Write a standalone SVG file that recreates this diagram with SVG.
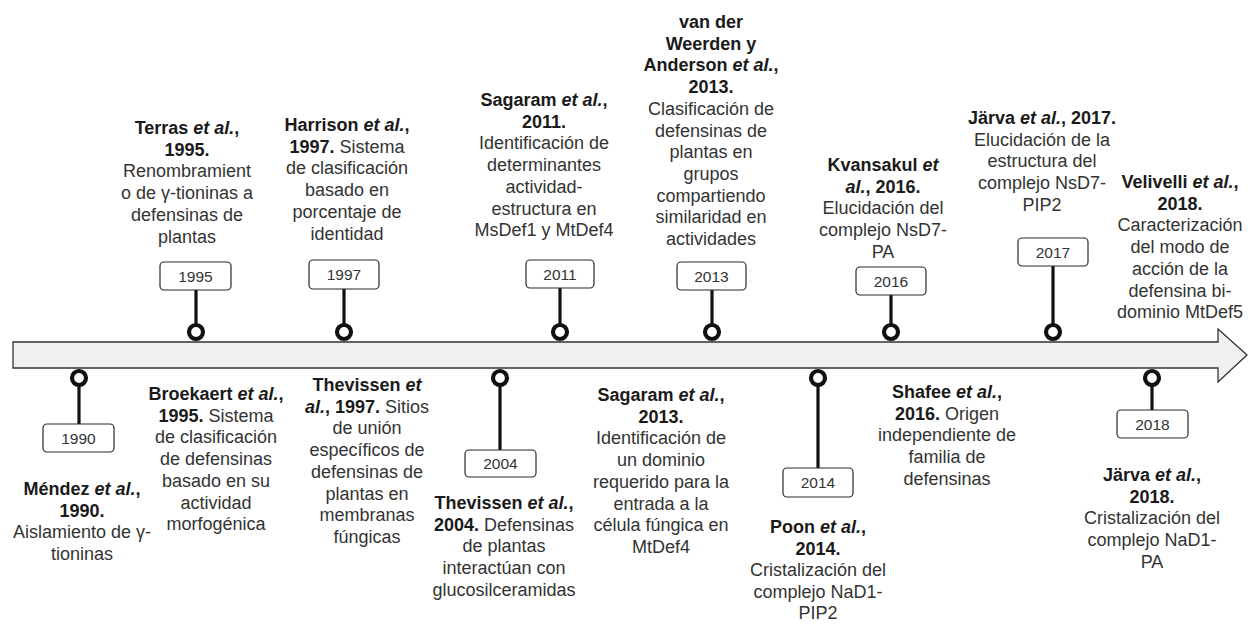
<svg xmlns="http://www.w3.org/2000/svg" width="1248" height="624" viewBox="0 0 1248 624">
<style>
.t{font-family:"Liberation Sans",Arial,sans-serif;font-size:18px;fill:#333;text-anchor:middle}
.b{font-weight:bold;fill:#1a1a1a}
.i{font-style:italic}
.yr{font-family:"Liberation Sans",Arial,sans-serif;font-size:15.5px;fill:#333;text-anchor:middle}
.box{fill:#fff;stroke:#2a2a2a;stroke-width:1.2}
.stem{stroke:#111;stroke-width:3.2;fill:none}
.dot{fill:#fff;stroke:#111;stroke-width:4.2}
</style>
<rect width="1248" height="624" fill="#fff"/>
<g id="timeline">
<polygon points="13,342 1218,342 1218,329 1247,355 1218,382 1218,368 13,368" fill="#f0f0f0" stroke="#333" stroke-width="1.3"/>
</g>
<g id="connectors">
<line class="stem" x1="196" y1="290" x2="196" y2="325"/><circle class="dot" cx="196" cy="332" r="7"/>
<line class="stem" x1="344" y1="289" x2="344" y2="325"/><circle class="dot" cx="344" cy="332" r="7"/>
<line class="stem" x1="560" y1="288" x2="560" y2="325"/><circle class="dot" cx="560" cy="332" r="7"/>
<line class="stem" x1="712" y1="290" x2="712" y2="325"/><circle class="dot" cx="712" cy="332" r="7"/>
<line class="stem" x1="891" y1="295" x2="891" y2="325"/><circle class="dot" cx="891" cy="332" r="7"/>
<line class="stem" x1="1053" y1="266" x2="1053" y2="325"/><circle class="dot" cx="1053" cy="332" r="7"/>
<line class="stem" x1="79" y1="385" x2="79" y2="424"/><circle class="dot" cx="79" cy="378" r="7"/>
<line class="stem" x1="500" y1="385" x2="500" y2="450"/><circle class="dot" cx="500" cy="378" r="7"/>
<line class="stem" x1="818" y1="385" x2="818" y2="468"/><circle class="dot" cx="818" cy="378" r="7"/>
<line class="stem" x1="1152" y1="385" x2="1152" y2="410"/><circle class="dot" cx="1152" cy="378" r="7"/>
</g>
<g id="e1990">
<rect class="box" x="43" y="424" width="71" height="28" rx="4"/>
<text class="yr" x="78.5" y="444">1990</text>
<text class="t" y="495"><tspan x="82" class="b">Méndez <tspan class="i">et al.</tspan>,</tspan><tspan x="82" dy="21.7" class="b">1990.</tspan><tspan x="82" dy="21.7">Aislamiento de γ-</tspan><tspan x="82" dy="21.7">tioninas</tspan></text>
</g>
<g id="e1995a">
<rect class="box" x="160" y="262" width="71" height="28" rx="4"/>
<text class="yr" x="195.5" y="282">1995</text>
<text class="t" y="134"><tspan x="187" class="b">Terras <tspan class="i">et al.</tspan>,</tspan><tspan x="187" dy="21.7" class="b">1995.</tspan><tspan x="187" dy="21.7">Renombramient</tspan><tspan x="187" dy="21.7">o de γ-tioninas a</tspan><tspan x="187" dy="21.7">defensinas de</tspan><tspan x="187" dy="21.7">plantas</tspan></text>
</g>
<g id="e1995b">
<text class="t" y="400"><tspan x="216" class="b">Broekaert <tspan class="i">et al.</tspan>,</tspan><tspan x="216" dy="21.7"><tspan class="b">1995.</tspan> Sistema</tspan><tspan x="216" dy="21.7">de clasificación</tspan><tspan x="216" dy="21.7">de defensinas</tspan><tspan x="216" dy="21.7">basado en su</tspan><tspan x="216" dy="21.7">actividad</tspan><tspan x="216" dy="21.7">morfogénica</tspan></text>
</g>
<g id="e1997a">
<rect class="box" x="309" y="260" width="70" height="29" rx="4"/>
<text class="yr" x="344" y="280">1997</text>
<text class="t" y="131"><tspan x="347" class="b">Harrison <tspan class="i">et al.</tspan>,</tspan><tspan x="347" dy="21.7"><tspan class="b">1997.</tspan> Sistema</tspan><tspan x="347" dy="21.7">de clasificación</tspan><tspan x="347" dy="21.7">basado en</tspan><tspan x="347" dy="21.7">porcentaje de</tspan><tspan x="347" dy="21.7">identidad</tspan></text>
</g>
<g id="e1997b">
<text class="t" y="391"><tspan x="367" class="b">Thevissen <tspan class="i">et</tspan></tspan><tspan x="367" dy="21.7"><tspan class="b"><tspan class="i">al.</tspan>, 1997.</tspan> Sitios</tspan><tspan x="367" dy="21.7">de unión</tspan><tspan x="367" dy="21.7">específicos de</tspan><tspan x="367" dy="21.7">defensinas de</tspan><tspan x="367" dy="21.7">plantas en</tspan><tspan x="367" dy="21.7">membranas</tspan><tspan x="367" dy="21.7">fúngicas</tspan></text>
</g>
<g id="e2004">
<rect class="box" x="465" y="450" width="71" height="27" rx="4"/>
<text class="yr" x="500.5" y="469">2004</text>
<text class="t" y="509"><tspan x="504" class="b">Thevissen <tspan class="i">et al.</tspan>,</tspan><tspan x="504" dy="21.7"><tspan class="b">2004.</tspan> Defensinas</tspan><tspan x="504" dy="21.7">de plantas</tspan><tspan x="504" dy="21.7">interactúan con</tspan><tspan x="504" dy="21.7">glucosilceramidas</tspan></text>
</g>
<g id="e2011">
<rect class="box" x="526" y="260" width="68" height="28" rx="4"/>
<text class="yr" x="560" y="280">2011</text>
<text class="t" y="106"><tspan x="544" class="b">Sagaram <tspan class="i">et al.</tspan>,</tspan><tspan x="544" dy="21.7" class="b">2011.</tspan><tspan x="544" dy="21.7">Identificación de</tspan><tspan x="544" dy="21.7">determinantes</tspan><tspan x="544" dy="21.7">actividad-</tspan><tspan x="544" dy="21.7">estructura en</tspan><tspan x="544" dy="21.7">MsDef1 y MtDef4</tspan></text>
</g>
<g id="e2013a">
<rect class="box" x="677" y="262" width="69" height="28" rx="4"/>
<text class="yr" x="711.5" y="282">2013</text>
<text class="t" y="28"><tspan x="711" class="b">van der</tspan><tspan x="711" dy="21.7" class="b">Weerden y</tspan><tspan x="711" dy="21.7" class="b">Anderson <tspan class="i">et al.</tspan>,</tspan><tspan x="711" dy="21.7" class="b">2013.</tspan><tspan x="711" dy="21.7">Clasificación de</tspan><tspan x="711" dy="21.7">defensinas de</tspan><tspan x="711" dy="21.7">plantas en</tspan><tspan x="711" dy="21.7">grupos</tspan><tspan x="711" dy="21.7">compartiendo</tspan><tspan x="711" dy="21.7">similaridad en</tspan><tspan x="711" dy="21.7">actividades</tspan></text>
</g>
<g id="e2013b">
<text class="t" y="401"><tspan x="661" class="b">Sagaram <tspan class="i">et al.</tspan>,</tspan><tspan x="661" dy="21.7" class="b">2013.</tspan><tspan x="661" dy="21.7">Identificación de</tspan><tspan x="661" dy="21.7">un dominio</tspan><tspan x="661" dy="21.7">requerido para la</tspan><tspan x="661" dy="21.7">entrada a la</tspan><tspan x="661" dy="21.7">célula fúngica en</tspan><tspan x="661" dy="21.7">MtDef4</tspan></text>
</g>
<g id="e2014">
<rect class="box" x="783" y="468" width="70" height="29" rx="4"/>
<text class="yr" x="818" y="488">2014</text>
<text class="t" y="533"><tspan x="818" class="b">Poon <tspan class="i">et al.</tspan>,</tspan><tspan x="818" dy="21.5" class="b">2014.</tspan><tspan x="818" dy="21.5">Cristalización del</tspan><tspan x="818" dy="21.5">complejo NaD1-</tspan><tspan x="818" dy="21.5">PIP2</tspan></text>
</g>
<g id="e2016a">
<rect class="box" x="856" y="267" width="70" height="28" rx="4"/>
<text class="yr" x="891" y="287">2016</text>
<text class="t" y="171"><tspan x="883" class="b">Kvansakul <tspan class="i">et</tspan></tspan><tspan x="883" dy="21.7" class="b"><tspan class="i">al.</tspan>, 2016.</tspan><tspan x="883" dy="21.7">Elucidación del</tspan><tspan x="883" dy="21.7">complejo NsD7-</tspan><tspan x="883" dy="21.7">PA</tspan></text>
</g>
<g id="e2016b">
<text class="t" y="398"><tspan x="947" class="b">Shafee <tspan class="i">et al.</tspan>,</tspan><tspan x="947" dy="21.7"><tspan class="b">2016.</tspan> Origen</tspan><tspan x="947" dy="21.7">independiente de</tspan><tspan x="947" dy="21.7">familia de</tspan><tspan x="947" dy="21.7">defensinas</tspan></text>
</g>
<g id="e2017">
<rect class="box" x="1018" y="238" width="70" height="28" rx="4"/>
<text class="yr" x="1053" y="258">2017</text>
<text class="t" y="124"><tspan x="1042" class="b">Järva <tspan class="i">et al.</tspan>, 2017.</tspan><tspan x="1042" dy="21.7">Elucidación de la</tspan><tspan x="1042" dy="21.7">estructura del</tspan><tspan x="1042" dy="21.7">complejo NsD7-</tspan><tspan x="1042" dy="21.7">PIP2</tspan></text>
</g>
<g id="e2018a">
<text class="t" y="188"><tspan x="1180" class="b">Velivelli <tspan class="i">et al.</tspan>,</tspan><tspan x="1180" dy="21.7" class="b">2018.</tspan><tspan x="1180" dy="21.7">Caracterización</tspan><tspan x="1180" dy="21.7">del modo de</tspan><tspan x="1180" dy="21.7">acción de la</tspan><tspan x="1180" dy="21.7">defensina bi-</tspan><tspan x="1180" dy="21.7">dominio MtDef5</tspan></text>
</g>
<g id="e2018b">
<rect class="box" x="1117" y="410" width="71" height="28" rx="4"/>
<text class="yr" x="1152.5" y="430">2018</text>
<text class="t" y="481"><tspan x="1152" class="b">Järva <tspan class="i">et al.</tspan>,</tspan><tspan x="1152" dy="21.7" class="b">2018.</tspan><tspan x="1152" dy="21.7">Cristalización del</tspan><tspan x="1152" dy="21.7">complejo NaD1-</tspan><tspan x="1152" dy="21.7">PA</tspan></text>
</g>
</svg>
